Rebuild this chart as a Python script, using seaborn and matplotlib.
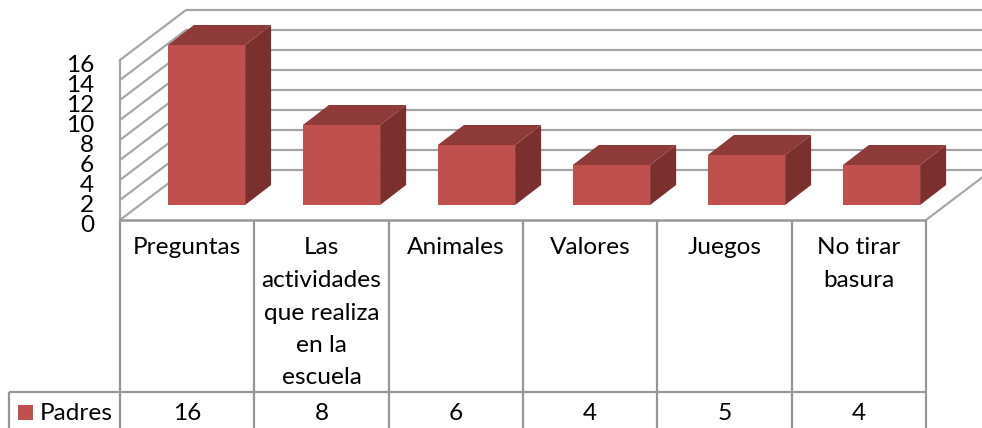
import matplotlib
matplotlib.use("Agg")
import matplotlib.pyplot as plt
from matplotlib.patches import Polygon, Rectangle
import pandas as pd
import seaborn as sns

categories = ["Preguntas", "Las\nactividades\nque realiza\nen la\nescuela", "Animales", "Valores", "Juegos", "No tirar\nbasura"]
padres = [16, 8, 6, 4, 5, 4]
y_ticks = [0, 2, 4, 6, 8, 10, 12, 14, 16]
series_name = "Padres"

FRONT = "#C0504D"
SIDE = "#7B302E"
TOP = "#8E3A38"
GRID = "#A3A3A3"
TABLE = "#969696"
FS = 17.6

sns.set_theme(style="white")
plt.rcParams["font.family"] = ["Lato", "DejaVu Sans"]

W, H = 982, 428
fig = plt.figure(figsize=(W / 100, H / 100), dpi=100, facecolor="white")

# Back layer: x in pixels, y in axis units (0 at the front floor line, 10 px per unit)
back = fig.add_axes([0, 0, 1, 1], zorder=0)
back.set_xlim(0, W)
back.set_ylim((220 - H) / 10, 220 / 10)
back.axis("off")

X0, X1 = 120, 926
DX, DV = 66, 5
for v in y_ticks:
    back.plot([X0, X0 + DX], [v, v + DV], color=GRID, lw=1.5, solid_capstyle="butt")
    back.plot([X0 + DX, W + 5], [v + DV, v + DV], color=GRID, lw=1.6, solid_capstyle="butt")
    back.text(94, v - 0.6, str(v), ha="right", va="center", fontsize=FS, color="black")
back.plot([X0, X0], [0, max(y_ticks)], color=GRID, lw=1.6)
back.plot([X1, X1 + DX], [0, DV], color=GRID, lw=1.5)

# Data table under the plot
n = len(categories)
step = (X1 - X0) / n
row_v = (220 - 392) / 10
bottom_v = (220 - H) / 10
back.plot([X0 - 1, X1], [0, 0], color=TABLE, lw=1.8, solid_capstyle="butt")
back.plot([9, X1], [row_v, row_v], color=TABLE, lw=1.6, solid_capstyle="butt")
back.plot([9, 9], [row_v, bottom_v], color=TABLE, lw=1.6, solid_capstyle="butt")
for i in range(n + 1):
    x = X0 + i * step
    back.plot([x, x], [0, bottom_v], color=TABLE, lw=1.6, solid_capstyle="butt")
for i, (cat, val) in enumerate(zip(categories, padres)):
    cx = X0 + (i + 0.5) * step
    for j, line in enumerate(cat.split("\n")):
        back.text(cx, (220 - (248 + j * 32.5)) / 10, line, ha="center", va="center", fontsize=FS, color="black")
    back.text(cx, (220 - 413) / 10, str(val), ha="center", va="center", fontsize=FS, color="black")
back.add_patch(Rectangle((18, (220 - 420) / 10), 15, 1.5, facecolor=FRONT, edgecolor="none"))
back.text(40, (220 - 413) / 10, series_name, ha="left", va="center", fontsize=FS, color="black")

# Bar layer: x in category positions, y in values with the bar floor at y=205 px
ax = fig.add_axes([0, 0, 1, 1], zorder=1)
ax.patch.set_alpha(0)
df = pd.DataFrame({"categoria": categories, "valor": padres})
sns.barplot(data=df, x="categoria", y="valor", color=FRONT, saturation=1, width=0.572, ax=ax, linewidth=0)
SPACING = 135
ax.set_xlim(-206.5 / SPACING, (W - 206.5) / SPACING)
ax.set_ylim((205 - H) / 10, 205 / 10)
ax.axis("off")
ddx, ddy = 26 / SPACING, 2.0
for b in list(ax.patches):
    x, w, h = b.get_x(), b.get_width(), b.get_height()
    ax.add_patch(Polygon([(x + w, 0), (x + w + ddx, ddy), (x + w + ddx, h + ddy), (x + w, h)],
                         closed=True, facecolor=SIDE, edgecolor="none"))
    ax.add_patch(Polygon([(x, h), (x + ddx, h + ddy), (x + w + ddx, h + ddy), (x + w, h)],
                         closed=True, facecolor=TOP, edgecolor="none"))

fig.savefig("out.png", dpi=100)
